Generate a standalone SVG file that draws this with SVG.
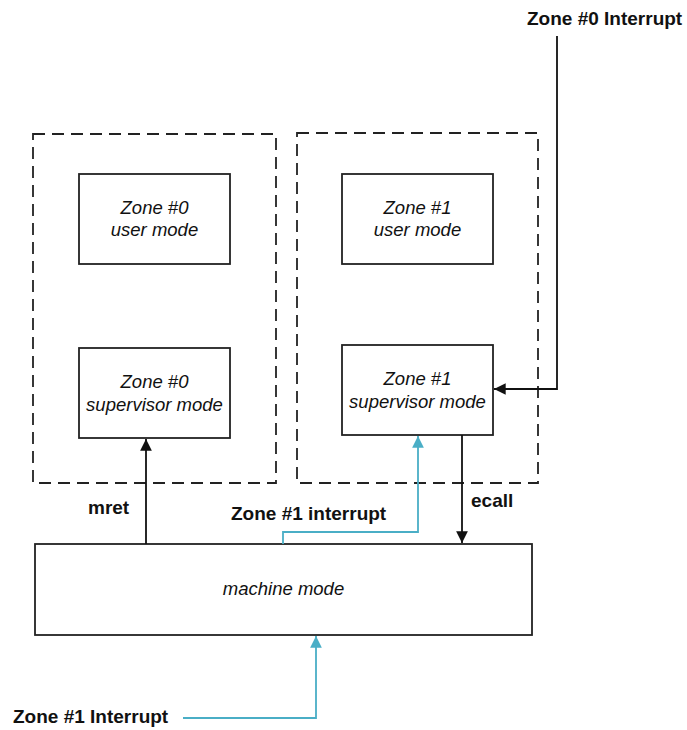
<svg xmlns="http://www.w3.org/2000/svg" width="687" height="730" viewBox="0 0 687 730">
<defs>
<style>
.dash{fill:none;stroke:#222;stroke-width:1.8;stroke-dasharray:12 7}
.box{fill:#fff;stroke:#222;stroke-width:1.8}
.it{font-family:"Liberation Sans",Arial,sans-serif;font-style:italic;font-size:18.5px;fill:#111;text-anchor:middle}
.lb{font-family:"Liberation Sans",Arial,sans-serif;font-weight:bold;font-size:19px;fill:#111}
.k{fill:none;stroke:#111;stroke-width:1.8}
.c{fill:none;stroke:#4aaec6;stroke-width:1.8}
</style>
<marker id="ak" viewBox="0 0 10 10" refX="10" refY="5" markerWidth="6.5" markerHeight="6.5" markerUnits="strokeWidth" orient="auto"><path d="M0,0L10,5L0,10z" fill="#111"/></marker>
<marker id="ac" viewBox="0 0 10 10" refX="10" refY="5" markerWidth="6.5" markerHeight="6.5" markerUnits="strokeWidth" orient="auto"><path d="M0,0L10,5L0,10z" fill="#4aaec6"/></marker>
</defs>
<g id="zone0-group"><rect class="dash" x="33" y="134" width="243" height="349"/></g>
<g id="zone1-group"><rect class="dash" x="297" y="133" width="241" height="350"/></g>
<g id="zone0-user"><rect class="box" x="79" y="174" width="151" height="90"/><text class="it" x="154.5" y="214">Zone #0</text><text class="it" x="154.5" y="236">user mode</text></g>
<g id="zone0-sup"><rect class="box" x="79" y="348" width="151" height="90"/><text class="it" x="154.5" y="388">Zone #0</text><text class="it" x="154.5" y="411">supervisor mode</text></g>
<g id="zone1-user"><rect class="box" x="342" y="174" width="151" height="90"/><text class="it" x="417.5" y="214">Zone #1</text><text class="it" x="417.5" y="236">user mode</text></g>
<g id="zone1-sup"><rect class="box" x="342" y="345" width="151" height="90"/><text class="it" x="417.5" y="385">Zone #1</text><text class="it" x="417.5" y="408">supervisor mode</text></g>
<g id="machine"><rect class="box" x="35" y="544" width="497" height="91"/><text class="it" x="283.5" y="595">machine mode</text></g>
<g id="connectors">
<path class="k" d="M557,36V389H494" marker-end="url(#ak)"/>
<path class="k" d="M146,544V439" marker-end="url(#ak)"/>
<path class="k" d="M462,435V543" marker-end="url(#ak)"/>
<path class="c" d="M283,544V532H418V436" marker-end="url(#ac)"/>
<path class="c" d="M183,718H316V636" marker-end="url(#ac)"/>
</g>
<g id="labels">
<text class="lb" x="527" y="25">Zone #0 Interrupt</text>
<text class="lb" x="88" y="514">mret</text>
<text class="lb" x="231" y="520">Zone #1 interrupt</text>
<text class="lb" x="471" y="507">ecall</text>
<text class="lb" x="13" y="723">Zone #1 Interrupt</text>
</g>
</svg>
